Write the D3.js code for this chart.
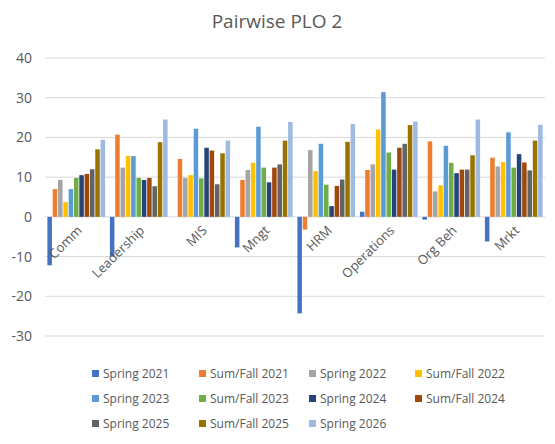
<!DOCTYPE html><html><head><meta charset="utf-8"><script src="https://cdn.jsdelivr.net/npm/d3@7"></script>
<style>body{margin:0;background:#fff}text{font-family:"Open Sans","Liberation Sans",sans-serif;fill:#595959}</style></head><body><svg id="c" width="555" height="444"></svg>
<script>
const categories=["Comm","Leadership","MIS","Mngt","HRM","Operations","Org Beh","Mrkt"];
const seriesNames=["Spring 2021","Sum/Fall 2021","Spring 2022","Sum/Fall 2022","Spring 2023","Sum/Fall 2023","Spring 2024","Sum/Fall 2024","Spring 2025","Sum/Fall 2025","Spring 2026"];
const colors=["#4472C4","#ED7D31","#A5A5A5","#FFC000","#5B9BD5","#70AD47","#264478","#9E480E","#636363","#997300","#9DBAE0"];
// values[category][series]
const values=[
[-12.2,7,9.3,3.7,7,9.8,10.5,10.8,12,17,19.4],
[-10,20.7,12.4,15.3,15.3,9.8,9.3,9.8,7.7,18.8,24.5],
[0,14.6,9.8,10.5,22.2,9.7,17.4,16.7,8.2,16,19.2],
[-7.7,9.3,11.8,13.6,22.7,12.4,8.7,12.4,13.2,19.2,23.9],
[-24.3,-3.2,16.8,11.5,18.4,8.1,2.7,7.8,9.4,18.9,23.4],
[1.3,11.8,13.2,22,31.4,16.2,11.9,17.4,18.4,23.1,24],
[-0.7,19,6.4,7.9,17.9,13.6,11,11.9,11.9,15.5,24.5],
[-6.2,14.9,12.7,13.8,21.3,12.4,15.8,13.7,11.7,19.2,23.2]];
const yTicks=[-30,-20,-10,0,10,20,30,40];
const svg=d3.select("#c");
svg.append("text").attr("x",277).attr("y",28).attr("text-anchor","middle").style("font-size","19px").text("Pairwise PLO 2");
const y=d3.scaleLinear().domain([-30,40]).range([336,58]);
const x=d3.scaleBand().domain(categories).range([45,545]);
const xs=d3.scaleBand().domain(d3.range(11)).range([0,x.bandwidth()]).paddingInner(0.15).paddingOuter(0.45);
svg.append("g").selectAll("line").data(yTicks).join("line").attr("x1",45).attr("x2",545).attr("y1",d=>y(d)).attr("y2",d=>y(d)).attr("stroke","#d9d9d9");
svg.append("g").selectAll("text").data(yTicks).join("text").attr("x",32).attr("y",d=>y(d)+5).attr("text-anchor","end").style("font-size","14px").text(d=>d);
const g=svg.append("g");
categories.forEach((c,i)=>{
 g.selectAll(null).data(values[i]).join("rect").attr("x",(d,j)=>x(c)+xs(j)).attr("width",xs.bandwidth())
  .attr("y",d=>y(Math.max(0,d))).attr("height",d=>Math.abs(y(d)-y(0))).attr("fill",(d,j)=>colors[j]);
});
svg.append("g").selectAll("text").data(categories).join("text")
 .attr("transform",d=>`translate(${x(d)+x.bandwidth()/2},${y(0)+8}) rotate(-45)`).attr("text-anchor","end").attr("dy","0.7em").style("font-size","13px").text(d=>d);
const lg=svg.append("g");
seriesNames.forEach((s,i)=>{
 const cx=[92,199,309,415][i%4], cy=374+Math.floor(i/4)*25;
 lg.append("rect").attr("x",cx).attr("y",cy-4).attr("width",7).attr("height",7).attr("fill",colors[i]);
 lg.append("text").attr("x",cx+11).attr("y",cy+4).style("font-size","12px").text(s);
});
</script></body></html>
